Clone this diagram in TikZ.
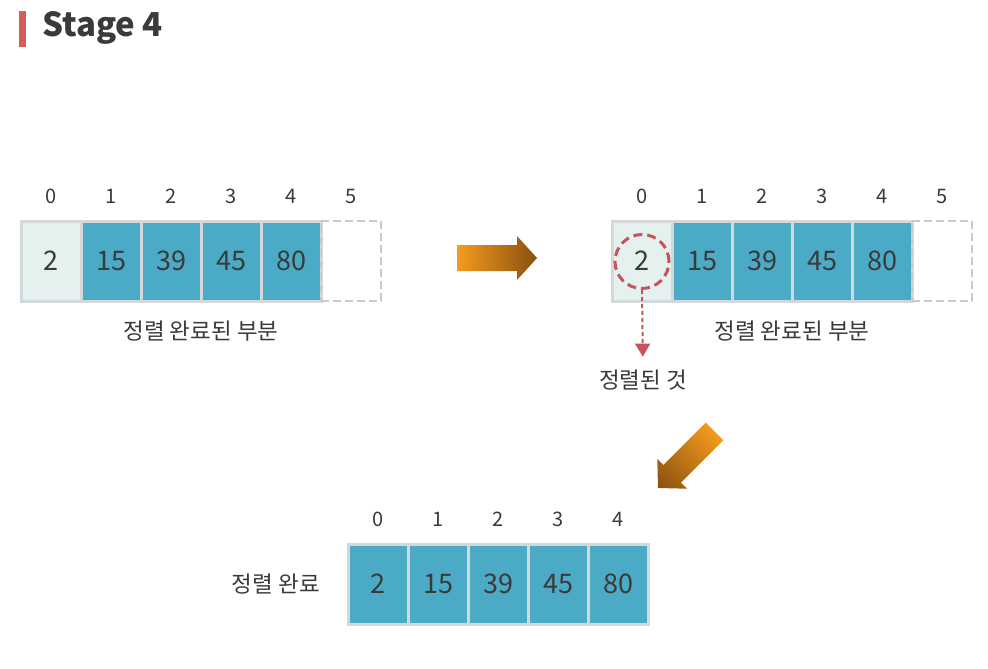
\documentclass[tikz,border=0pt]{standalone}
\usepackage{fontspec}
\setmainfont{Noto Sans CJK KR}
\usetikzlibrary{positioning,arrows.meta}

\definecolor{cellblue}{HTML}{4BABC6}
\definecolor{donefill}{HTML}{E4F1EF}
\definecolor{cellline}{HTML}{D3D8DA}
\definecolor{emptyline}{HTML}{CACACA}
\definecolor{textdark}{HTML}{3A3A3A}
\definecolor{markred}{HTML}{C9535B}
\definecolor{titlebar}{HTML}{D25C5C}
\definecolor{arroworange}{HTML}{F39C1F}
\definecolor{arrowbrown}{HTML}{8A500F}

\tikzset{
  cell/.style={draw=cellline, line width=3pt, minimum width=60pt, minimum height=80pt,
    inner sep=0pt, outer sep=0pt, text=textdark, font=\fontsize{27}{32}\selectfont},
  sortcell/.style={cell, fill=cellblue},
  donecell/.style={cell, fill=donefill},
  emptycell/.style={cell, draw=emptyline, line width=2.5pt, dash pattern=on 8pt off 4pt},
  idx/.style={inner sep=0pt, text=textdark, font=\fontsize{20}{24}\selectfont},
  note/.style={inner sep=0pt, text=textdark, font=\fontsize{22.5}{27}\selectfont},
  sortedmark/.style={circle, draw=markred, line width=3pt, dash pattern=on 9pt off 5pt,
    minimum size=54pt, inner sep=0pt},
  markline/.style={draw=markred, line width=2pt, dash pattern=on 4pt off 3pt,
    -{Triangle[width=15pt,length=13pt]}},
  bigarrow/.style={left color=arroworange, right color=arrowbrown},
}

\begin{document}
\begin{tikzpicture}[x=1pt, y=-1pt]
  \useasboundingbox (0,0) rectangle (988,669);

  % title
  \fill[titlebar] (19,11) rectangle (26,47);
  \node[anchor=base west, inner sep=0pt, text=textdark,
    font=\fontsize{33}{38}\selectfont\bfseries] (title) at (42,37) {Stage 4};

  % before
  \node[donecell] (a0) at (51,261) {2};
  \node[sortcell, right=0pt of a0] (a1) {15};
  \node[sortcell, right=0pt of a1] (a2) {39};
  \node[sortcell, right=0pt of a2] (a3) {45};
  \node[sortcell, right=0pt of a3] (a4) {80};
  \node[emptycell, right=0pt of a4] (a5) {};
  \node[idx, above=17pt of a0] {0};
  \node[idx, above=17pt of a1] {1};
  \node[idx, above=17pt of a2] {2};
  \node[idx, above=17pt of a3] {3};
  \node[idx, above=17pt of a4] {4};
  \node[idx, above=17pt of a5] {5};
  \node[note, below=20pt of a2.south east] {정렬 완료된 부분};

  % after
  \node[donecell] (b0) at (642,261) {2};
  \node[sortcell, right=0pt of b0] (b1) {15};
  \node[sortcell, right=0pt of b1] (b2) {39};
  \node[sortcell, right=0pt of b2] (b3) {45};
  \node[sortcell, right=0pt of b3] (b4) {80};
  \node[emptycell, right=0pt of b4] (b5) {};
  \node[idx, above=17pt of b0] {0};
  \node[idx, above=17pt of b1] {1};
  \node[idx, above=17pt of b2] {2};
  \node[idx, above=17pt of b3] {3};
  \node[idx, above=17pt of b4] {4};
  \node[idx, above=17pt of b5] {5};
  \node[note, below=20pt of b2.south east] {정렬 완료된 부분};

  \node[sortedmark] (mark) at ([yshift=-0.5pt]b0.center) {};
  \node[note] (sorted) at (643,380) {정렬된 것};
  \draw[markline, shorten >=13pt] (mark.south) -- (sorted.north);

  % done
  \node[sortcell] (c0) at (378,584) {2};
  \node[sortcell, right=0pt of c0] (c1) {15};
  \node[sortcell, right=0pt of c1] (c2) {39};
  \node[sortcell, right=0pt of c2] (c3) {45};
  \node[sortcell, right=0pt of c3] (c4) {80};
  \node[idx, above=17pt of c0] {0};
  \node[idx, above=17pt of c1] {1};
  \node[idx, above=17pt of c2] {2};
  \node[idx, above=17pt of c3] {3};
  \node[idx, above=17pt of c4] {4};
  \node[note, left=28pt of c0] {정렬 완료};

  % arrows
  \shade[bigarrow] (457,245) -- (517,245) -- (517,236) -- (537,258)
    -- (517,280) -- (517,271) -- (457,271) -- cycle;
  \begin{scope}[transform canvas={shift={(658,488)}, rotate=225}]
    \shade[bigarrow] (-80,-12.5) -- (-20,-12.5) -- (-20,-21) -- (0,0)
      -- (-20,21) -- (-20,12.5) -- (-80,12.5) -- cycle;
  \end{scope}
\end{tikzpicture}
\end{document}
